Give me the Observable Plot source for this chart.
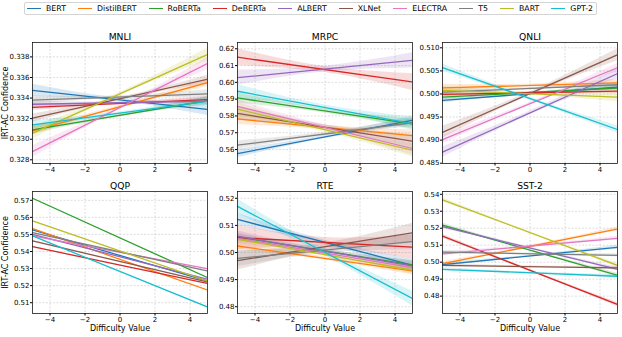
<!DOCTYPE html>
<html><head><meta charset="utf-8">
<script src="https://cdn.jsdelivr.net/npm/d3@7"></script>
<script src="https://cdn.jsdelivr.net/npm/@observablehq/plot@0.6"></script>
<style>
body{margin:0;background:#fff;font-family:"DejaVu Sans",sans-serif;}
#chart{position:relative;width:622px;height:337px;overflow:hidden;background:#fff;}
.panel{position:absolute;}
#legend{position:absolute;left:24px;top:2px;width:573px;height:13px;border:1px solid #d4d4d4;border-radius:2px;box-sizing:border-box;display:flex;align-items:center;justify-content:space-between;padding:0 3px 0 2px;font-size:7.8px;color:#000;}
.item{display:flex;align-items:center;white-space:nowrap;}
.swatch{width:14px;height:1.4px;margin-right:5px;}
</style>
</head><body>
<div id="chart"><div id="legend"></div></div>
<script>
const models = ["BERT","DistilBERT","RoBERTa","DeBERTa","ALBERT","XLNet","ELECTRA","T5","BART","GPT-2"];
const colors = ["#1f77b4","#ff7f0e","#2ca02c","#d62728","#9467bd","#8c564b","#e377c2","#7f7f7f","#bcbd22","#17becf"];
const xTicks = [-4,-2,0,2,4];
const xLim = [-5,5];

// MNLI
const mnliStart = [0.33475,0.3308,0.3309,0.3331,0.3334,0.33205,0.3288,0.3338,0.3306,0.3314];
const mnliEnd   = [0.3329,0.3355,0.33375,0.33385,0.3337,0.33582,0.33735,0.3344,0.33823,0.33368];
const mnliCiEnd = [0.0006,0.0004,0.0004,0.0003,0.0003,0.0004,0.0006,0.0004,0.0006,0.0004];
const mnliCiMid = [0.00015,0.00012,0.00012,0.0001,0.0001,0.00012,0.00015,0.00012,0.00015,0.00012];
const mnliYLim = [0.32764,0.3394];
const mnliTicks = [0.328,0.330,0.332,0.334,0.336,0.338];

// MRPC
const mrpcStart = [0.5576,0.5782,0.5907,0.6150,0.6028,0.5815,0.5857,0.5626,0.5840,0.5947];
const mrpcEnd   = [0.5774,0.5682,0.5752,0.6002,0.6131,0.5650,0.5606,0.5760,0.5596,0.5754];
const mrpcCiEnd = [0.0025,0.0035,0.003,0.005,0.0045,0.004,0.004,0.0025,0.004,0.004];
const mrpcCiMid = [0.001,0.0013,0.0012,0.0018,0.0017,0.0015,0.0015,0.001,0.0015,0.0015];
const mrpcYLim = [0.55168,0.62374];
const mrpcTicks = [0.56,0.57,0.58,0.59,0.60,0.61,0.62];

// QNLI
const qnliStart = [0.4986,0.5013,0.4993,0.4999,0.4874,0.4917,0.4901,0.5004,0.5008,0.5057];
const qnliEnd   = [0.5015,0.5024,0.5013,0.5006,0.5044,0.5085,0.5057,0.5020,0.4993,0.4923];
const qnliCiEnd = [0.0005,0.0008,0.0005,0.0005,0.0011,0.0013,0.0009,0.0006,0.001,0.0008];
const qnliCiMid = [0.0002,0.0003,0.0002,0.0002,0.0004,0.0004,0.0003,0.0002,0.0003,0.0003];
const qnliYLim = [0.48494,0.51115];
const qnliTicks = [0.485,0.490,0.495,0.500,0.505,0.510];

// QQP
const qqpStart = [0.5526,0.5534,0.5712,0.5428,0.5501,0.5462,0.5491,0.5510,0.5579,0.5491];
const qqpEnd   = [0.5227,0.5174,0.5247,0.5213,0.5237,0.5221,0.5299,0.5286,0.5227,0.5075];
const qqpCiEnd = [0.0003,0.0003,0.0003,0.0003,0.0003,0.0003,0.0003,0.0003,0.0003,0.0003];
const qqpCiMid = [0.0001,0.0001,0.0001,0.0001,0.0001,0.0001,0.0001,0.0001,0.0001,0.0001];
const qqpYLim = [0.50367,0.57516];
const qqpTicks = [0.51,0.52,0.53,0.54,0.55,0.56,0.57];

// RTE
const rteStart = [0.5122,0.5024,0.5057,0.5055,0.5060,0.4970,0.5052,0.4978,0.5049,0.5170];
const rteEnd   = [0.4953,0.4932,0.4954,0.5020,0.4950,0.5073,0.4944,0.5040,0.4935,0.4830];
const rteCiEnd = [0.0022,0.0015,0.0015,0.0045,0.002,0.0035,0.0018,0.003,0.0015,0.0027];
const rteCiMid = [0.0008,0.0006,0.0006,0.0018,0.0008,0.0013,0.0007,0.0012,0.0006,0.0011];
const rteYLim = [0.47749,0.52251];
const rteTicks = [0.48,0.49,0.50,0.51,0.52];

// SST-2
const sstStart = [0.4985,0.4991,0.5219,0.5153,0.5209,0.4981,0.5049,0.5059,0.5367,0.4958];
const sstEnd   = [0.5088,0.5195,0.4923,0.4751,0.4958,0.4966,0.5141,0.5040,0.4981,0.4917];
const sstCiEnd = [0.0012,0.0012,0.0012,0.0012,0.0012,0.001,0.0012,0.001,0.0012,0.001];
const sstCiMid = [0.0005,0.0005,0.0005,0.0005,0.0005,0.0004,0.0005,0.0004,0.0005,0.0004];
const sstYLim = [0.46976,0.54164];
const sstTicks = [0.48,0.49,0.50,0.51,0.52,0.53,0.54];

const panels = [
  {name:"MNLI", s:mnliStart, e:mnliEnd, ce:mnliCiEnd, cm:mnliCiMid, lim:mnliYLim, ticks:mnliTicks, fmt:".3f", col:0, row:0},
  {name:"MRPC", s:mrpcStart, e:mrpcEnd, ce:mrpcCiEnd, cm:mrpcCiMid, lim:mrpcYLim, ticks:mrpcTicks, fmt:".2f", col:1, row:0},
  {name:"QNLI", s:qnliStart, e:qnliEnd, ce:qnliCiEnd, cm:qnliCiMid, lim:qnliYLim, ticks:qnliTicks, fmt:".3f", col:2, row:0},
  {name:"QQP",  s:qqpStart,  e:qqpEnd,  ce:qqpCiEnd,  cm:qqpCiMid,  lim:qqpYLim,  ticks:qqpTicks,  fmt:".2f", col:0, row:1},
  {name:"RTE",  s:rteStart,  e:rteEnd,  ce:rteCiEnd,  cm:rteCiMid,  lim:rteYLim,  ticks:rteTicks,  fmt:".2f", col:1, row:1},
  {name:"SST-2",s:sstStart,  e:sstEnd,  ce:sstCiEnd,  cm:sstCiMid,  lim:sstYLim,  ticks:sstTicks,  fmt:".2f", col:2, row:1}
];

const colLeft = [32, 236.7, 441.7];
const rowTop = [42, 190.5];
const frameW = 175;
const frameH = [121, 122];
const mL = 32, mR = 4, mT = 16, mB = 22;

const chart = document.getElementById("chart");

// legend
const legend = document.getElementById("legend");
models.forEach((m, i) => {
  const it = document.createElement("div");
  it.className = "item";
  const sw = document.createElement("span");
  sw.className = "swatch";
  sw.style.background = colors[i];
  const tx = document.createElement("span");
  tx.textContent = m;
  it.appendChild(sw); it.appendChild(tx);
  legend.appendChild(it);
});

const grid = {stroke:"#b0b0b0", strokeOpacity:0.7, strokeDasharray:"2,1.5", strokeWidth:0.6};

panels.forEach(p => {
  const band = models.flatMap((m, i) => {
    const mid = (p.s[i] + p.e[i]) / 2;
    return [
      {model:m, x:xLim[0], lo:p.s[i]-p.ce[i], hi:p.s[i]+p.ce[i]},
      {model:m, x:0, lo:mid-p.cm[i], hi:mid+p.cm[i]},
      {model:m, x:xLim[1], lo:p.e[i]-p.ce[i], hi:p.e[i]+p.ce[i]}
    ];
  });
  const lines = models.flatMap((m, i) => [
    {model:m, x:xLim[0], y:p.s[i]},
    {model:m, x:xLim[1], y:p.e[i]}
  ]);
  const marks = [
    Plot.gridX({ticks:xTicks, ...grid}),
    Plot.gridY({ticks:p.ticks, ...grid}),
    Plot.areaY(band, {x:"x", y1:"lo", y2:"hi", fill:"model", fillOpacity:0.17, curve:"natural", clip:true}),
    Plot.line(lines, {x:"x", y:"y", stroke:"model", strokeWidth:1.3, clip:true}),
    Plot.frame({stroke:"#1a1a1a", strokeWidth:0.8}),
    Plot.axisX({ticks:xTicks, tickSize:2.5, tickPadding:1.5, label:null}),
    Plot.axisY({ticks:p.ticks, tickSize:2, tickPadding:1, tickFormat:d3.format(p.fmt), label:null}),
    Plot.text([p.name], {frameAnchor:"top", dy:-5.5, lineAnchor:"middle", textAnchor:"middle", fontSize:9.2, text:d => d})
  ];
  if (p.col === 0) marks.push(Plot.text(["IRT-AC Confidence"], {frameAnchor:"left", rotate:-90, dx:-27.5, fontSize:8, textAnchor:"middle", lineAnchor:"middle", text:d => d}));
  if (p.row === 1) marks.push(Plot.text(["Difficulty Value"], {frameAnchor:"bottom", dy:15, fontSize:8, textAnchor:"middle", lineAnchor:"middle", text:d => d}));
  const fh = frameH[p.row];
  const svg = Plot.plot({
    width: mL + frameW + mR,
    height: mT + fh + mB,
    marginLeft: mL, marginRight: mR, marginTop: mT, marginBottom: mB,
    style: {background:"transparent", fontFamily:"DejaVu Sans", fontSize:"7px", overflow:"visible", color:"#000"},
    x: {domain: xLim},
    y: {domain: p.lim},
    color: {domain: models, range: colors},
    marks
  });
  svg.classList.add("panel");
  svg.style.position = "absolute";
  svg.style.left = (colLeft[p.col] - mL) + "px";
  svg.style.top = (rowTop[p.row] - mT) + "px";
  chart.appendChild(svg);
});
</script>
</body></html>
